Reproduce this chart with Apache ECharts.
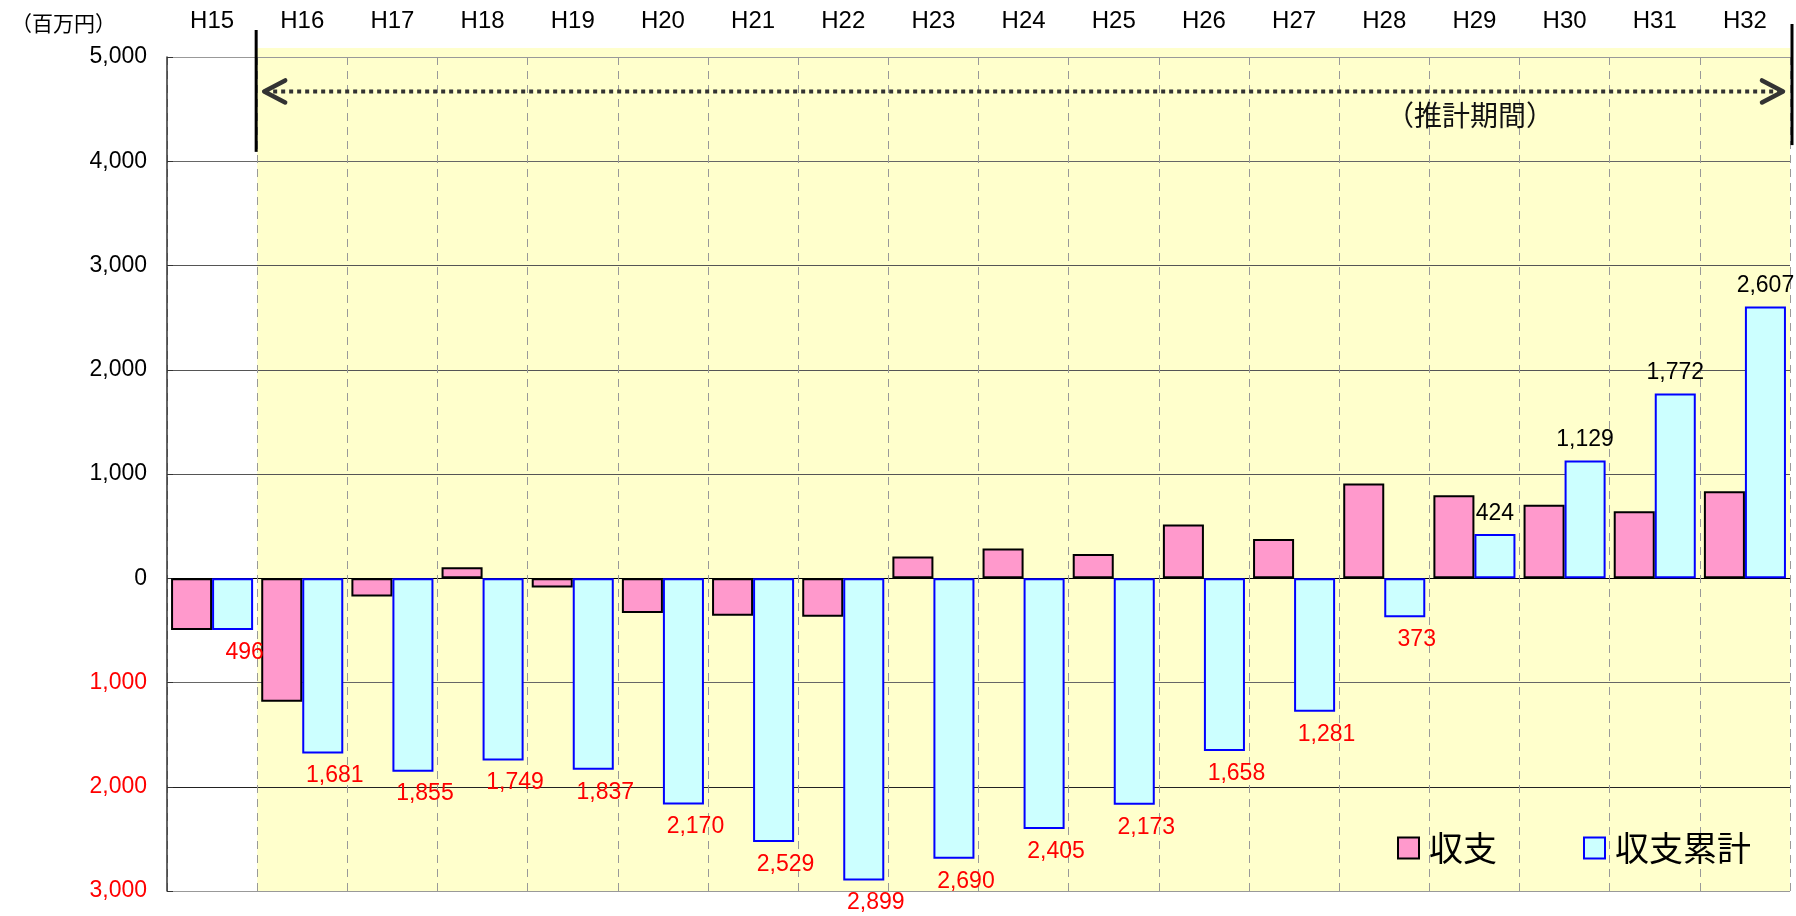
<!DOCTYPE html>
<html lang="ja">
<head>
    <meta charset="UTF-8">
    <title>収支・収支累計</title>
    <script src="https://cdn.jsdelivr.net/npm/echarts@6/dist/echarts.min.js"></script>
    <style>
        html, body { margin: 0; padding: 0; background: #fff; }
        #chart { width: 1796px; height: 916px; }
    </style>
</head>
<body>
    <div id="chart"></div>
    <script>
        // 年度
        var categories = ['H15', 'H16', 'H17', 'H18', 'H19', 'H20', 'H21', 'H22', 'H23',
            'H24', 'H25', 'H26', 'H27', 'H28', 'H29', 'H30', 'H31', 'H32'];
        // 収支（百万円）
        var balance = [-496, -1185, -174, 106, -88, -333, -359, -370, 209,
            285, 232, 515, 377, 908, 797, 705, 643, 835];
        // 収支累計（百万円）
        var cumulative = [-496, -1681, -1855, -1749, -1837, -2170, -2529, -2899, -2690,
            -2405, -2173, -1658, -1281, -373, 424, 1129, 1772, 2607];
        // 縦軸
        var yMin = -3000, yMax = 5000, yStep = 1000;

        var font = "'Liberation Sans', 'Noto Sans CJK JP', sans-serif";
        var cjk = "'Noto Sans CJK JP', 'Liberation Sans', sans-serif";

        function fmt(v) {
            return Math.abs(v).toString().replace(/\B(?=(\d{3})+(?!\d))/g, ',');
        }

        var chart = echarts.init(document.getElementById('chart'));

        var option = {
            animation: false,
            textStyle: { fontFamily: font },
            title: {
                text: '（百万円）',
                left: 6,
                top: 8,
                textStyle: { fontFamily: cjk, fontSize: 21, fontWeight: 'normal', color: '#000' }
            },
            legend: {
                left: 1397,
                top: 831,
                padding: 0,
                itemWidth: 21,
                itemHeight: 21,
                itemGap: 86,
                icon: 'rect',
                textStyle: { fontFamily: cjk, fontSize: 34, color: '#000', padding: [0, 0, 0, 5] },
                data: ['収支', '収支累計']
            },
            grid: { left: 167, right: 6, top: 57, bottom: 25 },
            xAxis: {
                type: 'category',
                position: 'top',
                data: categories,
                axisLine: { show: false, onZero: false },
                axisTick: { show: false },
                axisLabel: { fontSize: 24, color: '#000', margin: 24 },
                splitLine: {
                    show: true,
                    interval: 0,
                    lineStyle: { color: '#999', width: 1, type: [8, 6] }
                }
            },
            yAxis: {
                type: 'value',
                min: yMin,
                max: yMax,
                interval: yStep,
                axisLine: { show: true, lineStyle: { color: '#333', width: 1.5 } },
                axisTick: { show: true, inside: true, length: 6, lineStyle: { color: '#333' } },
                axisLabel: {
                    fontSize: 23,
                    color: '#000',
                    margin: 20,
                    formatter: function (v) {
                        return v < 0 ? '{r|' + fmt(v) + '}' : fmt(v);
                    },
                    rich: { r: { color: '#FF0000', fontSize: 23, fontFamily: font } }
                },
                splitLine: {
                    show: true,
                    lineStyle: {
                        color: ['#999', '#222', '#666', '#000', '#555', '#555', '#555', '#666', '#999'],
                        width: 1.2
                    }
                }
            },
            series: [
                {
                    name: '収支',
                    type: 'bar',
                    data: balance,
                    barGap: '0%',
                    barCategoryGap: '9%',
                    itemStyle: { color: '#FF99CC', borderColor: '#000', borderWidth: 2 }
                },
                {
                    name: '収支累計',
                    type: 'bar',
                    data: cumulative.map(function (v) {
                        return {
                            value: v,
                            label: v < 0
                                ? { position: 'bottom', color: '#FF0000', offset: [12, 0], distance: 11 }
                                : { position: 'top', color: '#000', distance: 9 }
                        };
                    }),
                    barGap: '0%',
                    barCategoryGap: '9%',
                    itemStyle: { color: '#CCFFFF', borderColor: '#0000FF', borderWidth: 2 },
                    label: {
                        show: true,
                        fontSize: 23,
                        fontFamily: font,
                        formatter: function (p) { return fmt(p.value); }
                    }
                }
            ]
        };

        chart.setOption(option);

        // 推計期間の背景・矢印
        function px(i, v) {
            return chart.convertToPixel({ gridIndex: 0 }, [i, v]);
        }
        var p0 = px(0, yMax), p1 = px(1, yMax);
        var band = p1[0] - p0[0];
        var xb = p0[0] + band / 2;
        var xr = px(categories.length - 1, yMax)[0] + band / 2;
        var yTop = p0[1];
        var yBot = px(0, yMin)[1];
        var yArrow = px(0, 4670)[1];

        chart.setOption({
            graphic: [
                {
                    type: 'rect', z: -10, silent: true,
                    shape: { x: xb, y: yTop - 9, width: xr - xb, height: yBot - yTop + 9 },
                    style: { fill: '#FFFFCC' }
                },
                {
                    type: 'line', z: 10, silent: true,
                    shape: { x1: xb - 1, y1: yTop - 27, x2: xb - 1, y2: px(0, 4090)[1] },
                    style: { stroke: '#000', lineWidth: 3 }
                },
                {
                    type: 'line', z: 10, silent: true,
                    shape: { x1: xr + 2, y1: yTop - 33, x2: xr + 2, y2: px(0, 4155)[1] },
                    style: { stroke: '#000', lineWidth: 3 }
                },
                {
                    type: 'line', z: 10, silent: true,
                    shape: { x1: xb + 8, y1: yArrow, x2: xr - 9, y2: yArrow },
                    style: { stroke: '#333', lineWidth: 4, lineDash: [4, 4] }
                },
                {
                    type: 'polyline', z: 10, silent: true,
                    shape: { points: [[xb + 28, yArrow - 11], [xb + 7, yArrow], [xb + 28, yArrow + 11]] },
                    style: { stroke: '#333', lineWidth: 4.5, lineCap: 'round', lineJoin: 'round', fill: null }
                },
                {
                    type: 'polyline', z: 10, silent: true,
                    shape: { points: [[xr - 28, yArrow - 11], [xr - 7, yArrow], [xr - 28, yArrow + 11]] },
                    style: { stroke: '#333', lineWidth: 4.5, lineCap: 'round', lineJoin: 'round', fill: null }
                },
                {
                    type: 'text', z: 10, silent: true,
                    x: xr - 320, y: px(0, 4440)[1],
                    style: {
                        text: '（推計期間）',
                        font: '28px ' + cjk,
                        fill: '#111',
                        align: 'center',
                        verticalAlign: 'middle'
                    }
                }
            ]
        });
    </script>
</body>
</html>
